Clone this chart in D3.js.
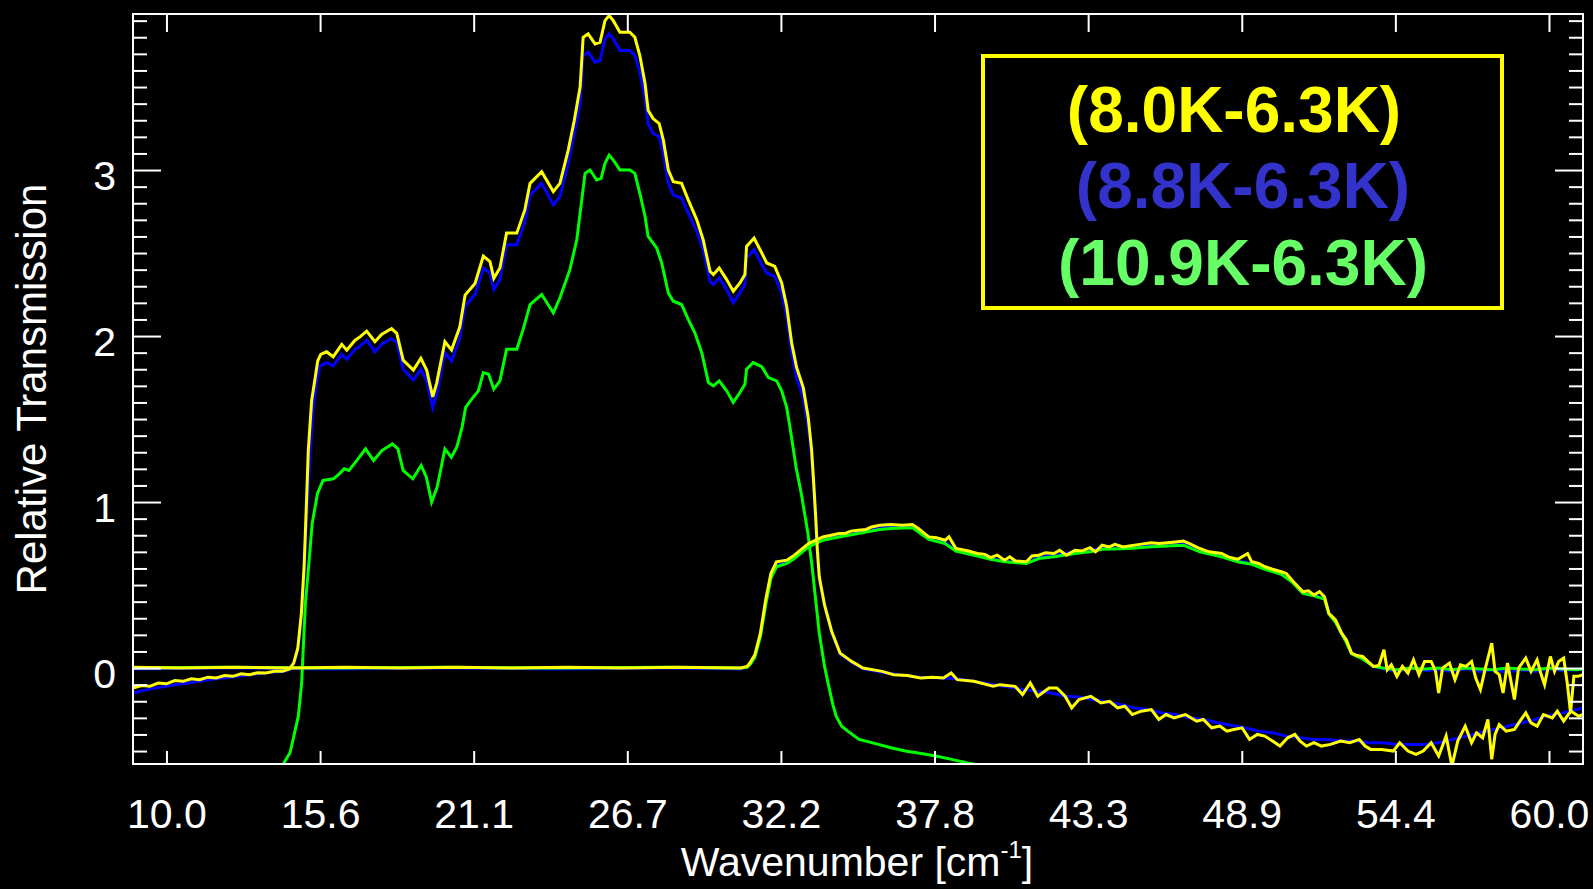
<!DOCTYPE html>
<html>
<head>
<meta charset="utf-8">
<script src="https://cdn.jsdelivr.net/npm/d3@7"></script>
<style>
  html, body { margin: 0; padding: 0; background: #000; }
  svg { display: block; }
</style>
</head>
<body>
<svg id="chart" width="1593" height="889"></svg>
<script>
// Filter transmission ratios vs. wavenumber (cm^-1), pairs of [wavenumber, relative transmission]

// Low-frequency band
const lowBand_8_0K = [
  [8.79,-0.12],[9.1,-0.105],[9.4,-0.11],[9.7,-0.09],[10.0,-0.095],[10.3,-0.075],[10.6,-0.08],[10.9,-0.065],
  [11.2,-0.07],[11.5,-0.055],[11.8,-0.06],[12.1,-0.045],[12.4,-0.05],[12.7,-0.035],[13.0,-0.04],[13.3,-0.028],
  [13.6,-0.03],[13.9,-0.02],[14.2,-0.02],[14.45,-0.005],[14.6,0.03],[14.75,0.12],[14.88,0.33],[14.98,0.62],
  [15.06,0.98],[15.13,1.31],[15.25,1.61],[15.37,1.74],[15.47,1.85],[15.58,1.89],[15.79,1.905],[16.03,1.875],
  [16.34,1.95],[16.52,1.915],[16.82,1.975],[17.0,1.995],[17.24,2.03],[17.54,1.966],[17.78,2.01],[18.14,2.045],
  [18.33,2.016],[18.56,1.855],[18.93,1.795],[19.2,1.866],[19.41,1.795],[19.63,1.634],[19.77,1.715],[20.07,1.966],
  [20.31,1.916],[20.61,2.056],[20.8,2.247],[21.16,2.317],[21.46,2.482],[21.7,2.448],[21.84,2.348],[22.06,2.41],
  [22.3,2.62],[22.67,2.62],[22.96,2.76],[23.15,2.92],[23.57,2.99],[23.99,2.87],[24.23,2.92],[24.53,3.12],
  [24.75,3.3],[24.96,3.5],[25.07,3.80],[25.25,3.82],[25.5,3.76],[25.68,3.77],[25.86,3.90],[26.01,3.93],
  [26.16,3.90],[26.4,3.83],[26.76,3.83],[26.94,3.80],[27.12,3.69],[27.31,3.52],[27.42,3.36],[27.6,3.31],
  [27.82,3.28],[27.97,3.18],[28.15,3.0],[28.33,2.93],[28.63,2.92],[28.87,2.82],[29.18,2.70],[29.41,2.58],
  [29.66,2.39],[29.78,2.37],[29.99,2.41],[30.26,2.34],[30.5,2.27],[30.74,2.32],[30.92,2.37],[30.98,2.54],
  [31.25,2.59],[31.53,2.50],[31.71,2.44],[32.0,2.42],[32.25,2.32],[32.43,2.18],[32.61,1.96],[32.79,1.81],
  [33.03,1.69],[33.21,1.51],[33.33,1.32],[33.41,1.11],[33.48,0.91],[33.54,0.71],[33.61,0.55],[33.8,0.38],
  [34.06,0.22],[34.36,0.09],[34.78,0.04],[35.19,0.0],[35.88,-0.02],[36.3,-0.04],[36.8,-0.045],[37.27,-0.06],
  [37.7,-0.055],[38.1,-0.06],[38.38,-0.03],[38.6,-0.07],[39.2,-0.08],[39.9,-0.11],[40.14,-0.10],[40.69,-0.11],
  [40.96,-0.16],[41.24,-0.09],[41.51,-0.17],[41.92,-0.12],[42.2,-0.12],[42.5,-0.17],[42.74,-0.24],[43.0,-0.19],
  [43.43,-0.17],[43.8,-0.21],[44.11,-0.20],[44.4,-0.24],[44.66,-0.23],[44.93,-0.28],[45.25,-0.26],[45.62,-0.25],
  [45.89,-0.31],[46.15,-0.28],[46.44,-0.30],[46.85,-0.28],[47.26,-0.32],[47.5,-0.31],[47.8,-0.36],[48.1,-0.35],
  [48.35,-0.38],[48.6,-0.37],[48.9,-0.36],[49.17,-0.43],[49.45,-0.40],[49.72,-0.41],[50.0,-0.44],[50.27,-0.47],
  [50.55,-0.42],[50.81,-0.40],[51.0,-0.44],[51.23,-0.47],[51.5,-0.45],[51.77,-0.47],[52.1,-0.46],[52.46,-0.44],
  [52.8,-0.45],[53.14,-0.43],[53.35,-0.47],[53.55,-0.49],[53.95,-0.49],[54.37,-0.50],[54.6,-0.45],[54.9,-0.50],
  [55.19,-0.52],[55.45,-0.50],[55.74,-0.45],[56.01,-0.53],[56.28,-0.41],[56.49,-0.59],[56.7,-0.44],[56.97,-0.35],
  [57.2,-0.45],[57.38,-0.39],[57.6,-0.42],[57.79,-0.31],[57.93,-0.55],[58.05,-0.40],[58.2,-0.34],[58.45,-0.38],
  [58.75,-0.37],[58.95,-0.32],[59.16,-0.27],[59.35,-0.33],[59.57,-0.35],[59.8,-0.28],[60.12,-0.30],[60.3,-0.26],
  [60.53,-0.32],[60.7,-0.28],[60.8,-0.26],[61.07,-0.29],[61.23,-0.28]
];

const lowBand_8_8K = [
  [8.79,-0.15],[9.3,-0.13],[9.8,-0.115],[10.3,-0.10],[10.8,-0.09],[11.3,-0.075],[11.8,-0.065],[12.3,-0.055],
  [12.8,-0.045],[13.3,-0.035],[13.8,-0.025],[14.3,-0.02],[14.5,-0.005],[14.65,0.04],[14.8,0.16],[14.92,0.38],
  [15.02,0.7],[15.1,1.0],[15.2,1.3],[15.3,1.55],[15.42,1.72],[15.55,1.82],[15.79,1.84],[16.03,1.82],
  [16.34,1.89],[16.52,1.86],[16.82,1.92],[17.0,1.94],[17.24,1.975],[17.54,1.905],[17.78,1.95],[18.14,1.985],
  [18.33,1.96],[18.56,1.80],[18.93,1.735],[19.2,1.80],[19.41,1.73],[19.63,1.57],[19.77,1.65],[20.07,1.90],
  [20.31,1.85],[20.61,1.99],[20.8,2.18],[21.16,2.25],[21.46,2.41],[21.7,2.38],[21.84,2.28],[22.06,2.34],
  [22.3,2.55],[22.67,2.55],[22.96,2.69],[23.15,2.85],[23.57,2.92],[23.99,2.79],[24.23,2.84],[24.53,3.04],
  [24.75,3.22],[24.96,3.40],[25.07,3.69],[25.25,3.71],[25.5,3.65],[25.68,3.66],[25.86,3.79],[26.01,3.82],
  [26.16,3.79],[26.4,3.72],[26.76,3.72],[26.94,3.69],[27.12,3.59],[27.31,3.43],[27.42,3.28],[27.6,3.22],
  [27.82,3.20],[27.97,3.10],[28.15,2.92],[28.33,2.85],[28.63,2.83],[28.87,2.74],[29.18,2.63],[29.41,2.52],
  [29.66,2.33],[29.78,2.31],[29.99,2.35],[30.26,2.28],[30.5,2.20],[30.74,2.26],[30.92,2.31],[30.98,2.47],
  [31.25,2.52],[31.53,2.43],[31.71,2.38],[32.0,2.36],[32.25,2.26],[32.43,2.12],[32.61,1.90],[32.79,1.75],
  [33.03,1.63],[33.21,1.45],[33.33,1.27],[33.41,1.06],[33.48,0.87],[33.54,0.68],[33.61,0.53],[33.8,0.37],
  [34.06,0.21],[34.36,0.085],[34.78,0.035],[35.19,-0.005],[35.88,-0.025],[36.5,-0.04],[37.27,-0.055],[38.1,-0.06],
  [38.6,-0.065],[39.2,-0.08],[39.9,-0.10],[40.5,-0.115],[41.0,-0.13],[41.5,-0.14],[42.0,-0.15],[42.5,-0.17],
  [43.0,-0.175],[43.5,-0.19],[44.0,-0.205],[44.5,-0.22],[45.0,-0.24],[45.5,-0.25],[46.0,-0.27],[46.5,-0.28],
  [47.0,-0.30],[47.5,-0.31],[48.0,-0.33],[48.5,-0.345],[49.0,-0.36],[49.5,-0.38],[50.0,-0.39],[50.5,-0.41],
  [51.0,-0.42],[51.5,-0.43],[52.0,-0.43],[52.5,-0.44],[53.0,-0.44],[53.5,-0.45],[54.0,-0.45],[54.5,-0.46],
  [55.0,-0.46],[55.5,-0.46],[56.0,-0.45],[56.5,-0.43],[57.0,-0.41],[57.5,-0.39],[58.0,-0.37],[58.5,-0.35],
  [59.0,-0.33],[59.5,-0.31],[60.0,-0.285],[60.5,-0.27],[61.0,-0.25],[61.23,-0.24]
];

const lowBand_10_9K = [
  [14.22,-0.58],[14.47,-0.51],[14.77,-0.29],[14.89,-0.09],[14.97,0.2],[15.03,0.4],[15.14,0.61],[15.27,0.87],
  [15.46,1.05],[15.66,1.13],[16.04,1.14],[16.25,1.17],[16.43,1.20],[16.6,1.19],[16.88,1.25],[17.2,1.32],
  [17.49,1.25],[17.79,1.31],[18.17,1.35],[18.37,1.32],[18.56,1.19],[18.91,1.14],[19.21,1.22],[19.4,1.15],
  [19.59,1.0],[19.79,1.09],[20.07,1.32],[20.3,1.27],[20.5,1.33],[20.69,1.45],[20.82,1.57],[21.04,1.62],
  [21.28,1.67],[21.46,1.78],[21.65,1.77],[21.84,1.68],[22.06,1.73],[22.3,1.92],[22.67,1.92],[22.9,2.04],
  [23.15,2.19],[23.57,2.25],[23.99,2.14],[24.23,2.23],[24.59,2.40],[24.84,2.58],[25.02,2.82],[25.14,2.98],
  [25.32,3.0],[25.56,2.94],[25.72,2.95],[25.86,3.04],[26.01,3.09],[26.16,3.06],[26.4,3.0],[26.76,3.0],
  [26.94,2.98],[27.12,2.86],[27.31,2.72],[27.42,2.60],[27.73,2.53],[27.91,2.44],[28.15,2.26],[28.33,2.21],
  [28.63,2.19],[28.87,2.10],[29.11,2.02],[29.36,1.90],[29.6,1.72],[29.78,1.70],[29.99,1.73],[30.26,1.67],
  [30.5,1.60],[30.74,1.66],[30.92,1.71],[30.98,1.80],[31.22,1.84],[31.53,1.815],[31.77,1.75],[32.07,1.73],
  [32.25,1.67],[32.43,1.57],[32.55,1.45],[32.67,1.32],[32.77,1.21],[32.96,1.05],[33.2,0.81],[33.35,0.61],
  [33.48,0.41],[33.61,0.21],[33.8,0.01],[33.94,-0.10],[34.1,-0.22],[34.22,-0.29],[34.42,-0.35],[34.64,-0.38],
  [35.05,-0.43],[35.4,-0.445],[35.75,-0.46],[36.2,-0.48],[36.72,-0.50],[37.3,-0.515],[37.82,-0.53],[38.4,-0.55],
  [38.93,-0.57],[39.4,-0.585],[39.8,-0.59]
];

// High-frequency band
const highBand_8_0K = [
  [8.79,0.005],[10.5,0.0],[12.5,0.005],[14.5,0.0],[16.5,0.005],[18.5,0.0],[20.5,0.005],[22.5,0.0],
  [24.5,0.005],[26.5,0.0],[28.5,0.005],[30.77,0.0],[31.0,0.01],[31.1,0.03],[31.28,0.08],[31.48,0.21],
  [31.67,0.41],[31.86,0.57],[32.06,0.64],[32.44,0.65],[32.71,0.68],[33.22,0.75],[33.74,0.79],[34.04,0.80],
  [34.32,0.81],[34.53,0.81],[34.75,0.825],[35.02,0.83],[35.3,0.835],[35.5,0.85],[35.8,0.86],[36.2,0.865],
  [36.6,0.86],[36.98,0.865],[37.2,0.84],[37.57,0.79],[37.85,0.785],[38.16,0.77],[38.3,0.79],[38.55,0.72],
  [39.0,0.705],[39.33,0.69],[39.6,0.685],[39.8,0.665],[40.05,0.68],[40.31,0.65],[40.5,0.67],[40.7,0.645],
  [41.1,0.64],[41.3,0.675],[41.55,0.68],[41.79,0.695],[42.1,0.69],[42.3,0.71],[42.55,0.68],[42.86,0.71],
  [43.1,0.705],[43.4,0.725],[43.6,0.70],[43.84,0.74],[44.1,0.73],[44.3,0.745],[44.6,0.73],[44.82,0.735],
  [45.2,0.745],[45.61,0.755],[45.9,0.75],[46.2,0.755],[46.5,0.76],[46.78,0.765],[47.0,0.75],[47.37,0.72],
  [47.7,0.70],[48.16,0.69],[48.4,0.67],[48.74,0.655],[48.95,0.675],[49.1,0.69],[49.25,0.64],[49.5,0.63],
  [49.73,0.61],[50.0,0.595],[50.32,0.58],[50.5,0.57],[50.7,0.53],[51.1,0.46],[51.3,0.465],[51.5,0.44],
  [51.7,0.46],[51.88,0.43],[52.04,0.33],[52.28,0.29],[52.5,0.21],[52.67,0.17],[52.86,0.09],[53.06,0.075],
  [53.26,0.07],[53.45,0.04],[53.65,0.01],[53.85,0.015],[54.03,0.11],[54.15,-0.01],[54.3,0.02],[54.5,-0.05],
  [54.7,0.01],[54.9,-0.03],[55.1,0.05],[55.3,-0.04],[55.5,0.04],[55.74,0.04],[55.9,-0.02],[56.01,-0.15],
  [56.15,0.0],[56.4,0.03],[56.6,-0.07],[56.8,0.02],[57.0,0.01],[57.2,0.04],[57.35,-0.06],[57.52,-0.13],
  [57.7,0.0],[57.93,0.15],[58.05,-0.02],[58.2,-0.04],[58.34,-0.15],[58.5,0.03],[58.75,-0.19],[58.9,0.0],
  [59.16,0.06],[59.35,-0.02],[59.57,0.05],[59.7,-0.03],[59.84,-0.10],[60.05,0.07],[60.2,-0.02],[60.35,0.04],
  [60.53,0.06],[60.66,-0.09],[60.78,-0.27],[60.9,-0.05],[61.05,-0.05],[61.23,-0.04]
];

const highBand_8_8K = [
  [8.79,-0.005],[12,0.0],[16,-0.005],[20,0.0],[24,-0.005],[28,0.0],[30.77,-0.005],[31.0,0.005],
  [31.1,0.02],[31.28,0.07],[31.48,0.2],[31.67,0.39],[31.86,0.55],[32.06,0.62],[32.44,0.64],[32.71,0.67],
  [33.22,0.74],[33.74,0.78],[34.32,0.80],[35.02,0.815],[35.5,0.835],[35.8,0.845],[36.2,0.85],[36.98,0.85],
  [37.2,0.83],[37.57,0.78],[38.16,0.76],[38.55,0.71],[39.33,0.68],[39.8,0.66],[40.31,0.645],[41.1,0.635],
  [41.55,0.67],[42.1,0.68],[42.86,0.70],[43.4,0.71],[43.84,0.725],[44.82,0.725],[45.61,0.74],[46.2,0.745],
  [46.78,0.75],[47.37,0.71],[48.16,0.68],[48.74,0.645],[49.25,0.63],[49.73,0.60],[50.32,0.57],[50.7,0.525],
  [51.1,0.455],[51.5,0.44],[51.88,0.42],[52.04,0.33],[52.28,0.28],[52.67,0.16],[52.86,0.09],[53.26,0.06],
  [53.65,0.01],[54.0,-0.005],[54.5,-0.02],[55.0,0.0],[55.5,-0.015],[56.0,-0.01],[56.5,-0.02],[57.0,-0.005],
  [57.5,-0.02],[58.0,-0.01],[58.5,-0.025],[59.0,-0.01],[59.5,-0.02],[60.0,-0.005],[60.5,-0.015],[61.0,-0.01],
  [61.23,-0.01]
];

const highBand_10_9K = [
  [8.79,0.0],[12,0.005],[16,0.0],[20,0.005],[24,0.0],[28,0.005],[30.77,0.0],[31.0,0.005],
  [31.1,0.02],[31.28,0.065],[31.48,0.19],[31.67,0.38],[31.86,0.54],[32.06,0.61],[32.44,0.63],[32.71,0.66],
  [33.22,0.73],[33.74,0.77],[34.32,0.79],[35.02,0.81],[35.5,0.825],[35.8,0.835],[36.2,0.84],[36.98,0.845],
  [37.2,0.82],[37.57,0.775],[38.16,0.75],[38.55,0.705],[39.33,0.675],[39.8,0.655],[40.31,0.64],[41.1,0.63],
  [41.55,0.66],[42.1,0.67],[42.86,0.69],[43.4,0.70],[43.84,0.715],[44.82,0.72],[45.61,0.73],[46.2,0.735],
  [46.78,0.74],[47.37,0.70],[48.16,0.67],[48.74,0.64],[49.25,0.625],[49.73,0.595],[50.32,0.565],[50.7,0.52],
  [51.1,0.45],[51.5,0.435],[51.88,0.415],[52.04,0.325],[52.28,0.275],[52.67,0.155],[52.86,0.085],[53.26,0.055],
  [53.65,0.01],[54.0,0.0],[54.5,-0.01],[55.0,0.0],[55.5,-0.005],[56.0,0.0],[56.5,-0.01],[57.0,0.0],
  [57.5,-0.005],[58.0,-0.01],[58.5,0.0],[59.0,-0.005],[59.5,-0.01],[60.0,0.0],[60.5,-0.005],[61.0,-0.01],
  [61.23,-0.005]
];

const legendLabels = ["(8.0K-6.3K)", "(8.8K-6.3K)", "(10.9K-6.3K)"];
const xTickValues = [10.0, 15.556, 21.111, 26.667, 32.222, 37.778, 43.333, 48.889, 54.444, 60.0];
const xTickLabels = ["10.0", "15.6", "21.1", "26.7", "32.2", "37.8", "43.3", "48.9", "54.4", "60.0"];
const yTickValues = [0, 1, 2, 3];
const yMinorTickValues = d3.range(-5, 40).filter(i => i % 10 !== 0).map(i => i / 10);

// ---- layout ----
const svg = d3.select("#chart");
const plot = { left: 133, top: 14, right: 1583, bottom: 764 };

const x = d3.scaleLinear().domain([8.79, 61.23]).range([plot.left, plot.right]);
const y = d3.scaleLinear().domain([-0.578, 3.94]).range([plot.bottom, plot.top]);

const seriesColors = { y: "#ffff00", b: "#0000ff", g: "#00ff00" };
const legendColors = ["#ffff00", "#3333cc", "#66ff66"];
const labelFont = "'Liberation Sans', Arial, Helvetica, sans-serif";

svg.append("rect").attr("width", 1593).attr("height", 889).attr("fill", "#000");

svg.append("defs").append("clipPath").attr("id", "plotClip")
  .append("rect")
  .attr("x", plot.left).attr("y", plot.top)
  .attr("width", plot.right - plot.left).attr("height", plot.bottom - plot.top);

// ---- curves ----
const line = d3.line().x(d => x(d[0])).y(d => y(d[1]));
const curves = [
  { data: lowBand_8_8K, color: seriesColors.b },
  { data: highBand_8_8K, color: seriesColors.b },
  { data: lowBand_10_9K, color: seriesColors.g },
  { data: highBand_10_9K, color: seriesColors.g },
  { data: lowBand_8_0K, color: seriesColors.y },
  { data: highBand_8_0K, color: seriesColors.y }
];
const curveLayer = svg.append("g").attr("clip-path", "url(#plotClip)");
curveLayer.selectAll("path.curve")
  .data(curves)
  .join("path")
  .attr("class", "curve")
  .attr("d", d => line(d.data))
  .attr("fill", "none")
  .attr("stroke", d => d.color)
  .attr("stroke-width", 3)
  .attr("stroke-linejoin", "miter");

// ---- axes (ticks pointing inward on all four sides) ----
function styleAxis(g) {
  g.select(".domain").remove();
  g.selectAll(".tick line").attr("stroke", "#fff").attr("stroke-width", 2);
  g.selectAll(".tick text").attr("fill", "#fff").attr("font-family", labelFont).attr("font-size", 41);
}

const xBottom = svg.append("g")
  .attr("transform", `translate(0,${plot.bottom})`)
  .call(d3.axisBottom(x).tickValues(xTickValues)
    .tickFormat((d, i) => xTickLabels[i]).tickSizeInner(-13).tickSizeOuter(0))
  .call(styleAxis);
xBottom.selectAll(".tick text").attr("y", 64).attr("dy", null);

svg.append("g")
  .attr("transform", `translate(0,${plot.top})`)
  .call(d3.axisTop(x).tickValues(xTickValues).tickFormat("").tickSizeInner(-18).tickSizeOuter(0))
  .call(styleAxis);

const yLeft = svg.append("g")
  .attr("transform", `translate(${plot.left},0)`)
  .call(d3.axisLeft(y).tickValues(yTickValues).tickFormat(d3.format("d"))
    .tickSizeInner(-28).tickSizeOuter(0))
  .call(styleAxis);
yLeft.selectAll(".tick text").attr("x", -17).attr("y", 5).attr("dy", "0.35em");

svg.append("g")
  .attr("transform", `translate(${plot.left},0)`)
  .call(d3.axisLeft(y).tickValues(yMinorTickValues).tickFormat("").tickSizeInner(-14).tickSizeOuter(0))
  .call(styleAxis);

svg.append("g")
  .attr("transform", `translate(${plot.right},0)`)
  .call(d3.axisRight(y).tickValues(yTickValues).tickFormat("").tickSizeInner(-28).tickSizeOuter(0))
  .call(styleAxis);

svg.append("g")
  .attr("transform", `translate(${plot.right},0)`)
  .call(d3.axisRight(y).tickValues(yMinorTickValues).tickFormat("").tickSizeInner(-14).tickSizeOuter(0))
  .call(styleAxis);

// frame
svg.append("rect")
  .attr("x", plot.left).attr("y", plot.top)
  .attr("width", plot.right - plot.left).attr("height", plot.bottom - plot.top)
  .attr("fill", "none").attr("stroke", "#fff").attr("stroke-width", 2);

// ---- axis titles ----
const xTitle = svg.append("text")
  .attr("x", 857).attr("y", 876)
  .attr("text-anchor", "middle")
  .attr("fill", "#fff").attr("font-family", labelFont).attr("font-size", 41);
xTitle.append("tspan").text("Wavenumber [cm");
xTitle.append("tspan").attr("dy", -18).attr("font-size", 24).text("-1");
xTitle.append("tspan").attr("dy", 18).text("]");

svg.append("text")
  .attr("transform", "translate(46,389) rotate(-90)")
  .attr("text-anchor", "middle")
  .attr("fill", "#fff").attr("font-family", labelFont).attr("font-size", 42)
  .text("Relative Transmission");

// ---- legend ----
svg.append("rect")
  .attr("x", 983).attr("y", 56).attr("width", 519).attr("height", 252)
  .attr("fill", "#000").attr("stroke", "#ffff00").attr("stroke-width", 4);

const legendCenters = [1234, 1243, 1243];
const legendBaselines = [132, 208, 285];
svg.selectAll("text.legend")
  .data(legendLabels)
  .join("text")
  .attr("class", "legend")
  .attr("x", (d, i) => legendCenters[i])
  .attr("y", (d, i) => legendBaselines[i])
  .attr("text-anchor", "middle")
  .attr("font-family", labelFont)
  .attr("font-weight", "bold")
  .attr("font-size", 64)
  .attr("fill", (d, i) => legendColors[i])
  .text(d => d);
</script>
</body>
</html>
